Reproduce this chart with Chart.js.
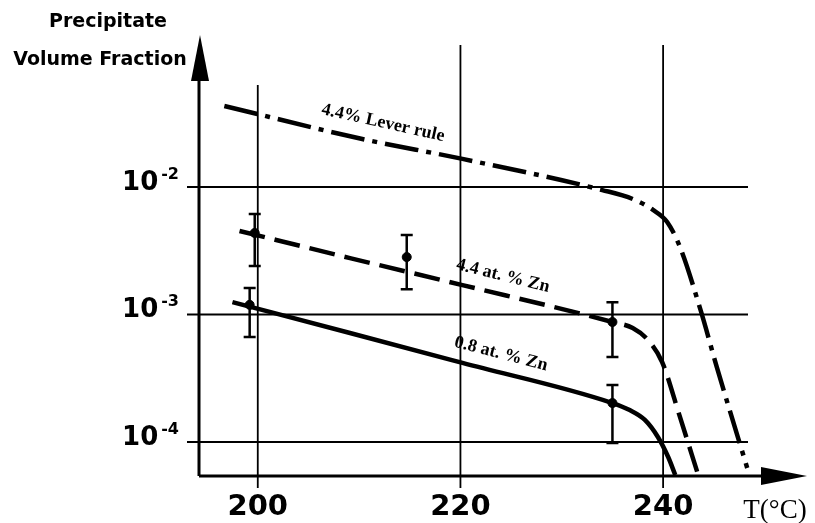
<!DOCTYPE html>
<html>
<head>
<meta charset="utf-8">
<script src="https://cdn.jsdelivr.net/npm/chart.js@4.4.1/dist/chart.umd.min.js"></script>
<style>
  body { margin: 0; background: #fff; }
  canvas { display: block; }
</style>
</head>
<body>
<canvas id="precipChart" width="815" height="523"></canvas>
<script>
// curves: temperature (°C) / volume fraction
const leverT = [196.7, 210.1, 220.2, 234.0, 237.0, 239.0, 240.4, 241.7, 243.7, 245.3, 248.3];
const leverV = [0.0432, 0.0240, 0.0166, 0.00946, 0.00805, 0.00661, 0.00531, 0.00333, 0.00108, 0.000387, 0.0000625];

const zn44T = [198.2, 209.1, 220.2, 235.0, 237.0, 238.5, 239.9, 241.6, 243.4];
const zn44V = [0.00452, 0.00277, 0.00170, 0.000873, 0.000783, 0.000631, 0.000424, 0.000163, 0.0000571];

const zn08T = [197.5, 209.1, 220.2, 235.0, 236.7, 238.2, 239.5, 240.5, 241.2];
const zn08V = [0.00125, 0.000716, 0.000417, 0.000202, 0.000178, 0.000149, 0.000109, 0.0000762, 0.0000551];

// measured points with error bars
const zn44PtT = [199.7, 214.7, 235.0];
const zn44PtV = [0.00436, 0.00282, 0.000873];
const zn44Lo = [0.00240, 0.00158, 0.000465];
const zn44Hi = [0.00614, 0.00421, 0.00125];

const zn08PtT = [199.2, 235.0];
const zn08PtV = [0.00119, 0.000202];
const zn08Lo = [0.000667, 0.0000980];
const zn08Hi = [0.00161, 0.000280];

// ticks
const xTicks = [200, 220, 240];
const yTickExp = [-2, -3, -4];

const toXY = (xs, ys) => xs.map((t, i) => ({ x: t, y: ys[i] }));

const sansBold = (px) => 'bold ' + px + 'px "DejaVu Sans"';

// axes, grid, labels and error bars drawn from the chart's own scales
const frame = {
  id: 'frame',
  beforeDatasetsDraw(chart) {
    const { ctx, chartArea: a, scales: { x, y } } = chart;
    ctx.save();
    ctx.strokeStyle = '#000';
    ctx.fillStyle = '#000';

    // grid
    ctx.lineWidth = 1.8;
    xTicks.forEach((t, i) => {
      const px = x.getPixelForValue(t);
      ctx.beginPath();
      ctx.moveTo(px, i === 0 ? 85 : 45);
      ctx.lineTo(px, a.bottom + 12);
      ctx.stroke();
    });
    yTickExp.forEach(e => {
      const py = y.getPixelForValue(Math.pow(10, e));
      ctx.beginPath();
      ctx.moveTo(a.left - 12, py);
      ctx.lineTo(748, py);
      ctx.stroke();
    });

    // axes with arrows
    ctx.lineWidth = 3;
    ctx.beginPath();
    ctx.moveTo(a.left, a.bottom);
    ctx.lineTo(a.left, a.top + 40);
    ctx.moveTo(a.left, a.bottom);
    ctx.lineTo(a.right - 40, a.bottom);
    ctx.stroke();
    ctx.beginPath();
    ctx.moveTo(a.left + 1, a.top);
    ctx.lineTo(a.left - 8, a.top + 46);
    ctx.lineTo(a.left + 10, a.top + 46);
    ctx.closePath();
    ctx.fill();
    ctx.beginPath();
    ctx.moveTo(a.right, a.bottom);
    ctx.lineTo(a.right - 46, a.bottom - 9);
    ctx.lineTo(a.right - 46, a.bottom + 9);
    ctx.closePath();
    ctx.fill();

    // x tick labels
    ctx.font = sansBold(29);
    ctx.textAlign = 'center';
    ctx.textBaseline = 'alphabetic';
    xTicks.forEach(t => ctx.fillText(String(t), x.getPixelForValue(t), 515));

    // y tick labels 10^-n
    ctx.textAlign = 'left';
    yTickExp.forEach(e => {
      const py = y.getPixelForValue(Math.pow(10, e));
      ctx.font = sansBold(26);
      const w1 = ctx.measureText('10').width;
      ctx.font = sansBold(16);
      const sup = '-' + Math.abs(e);
      const w2 = ctx.measureText(sup).width;
      const x0 = 179 - (w1 + 3 + w2);
      ctx.font = sansBold(26);
      ctx.fillText('10', x0, py + 3);
      ctx.font = sansBold(16);
      ctx.fillText(sup, x0 + w1 + 3, py - 8);
    });

    // axis titles
    ctx.font = sansBold(19);
    ctx.textAlign = 'center';
    ctx.fillText('Precipitate', 108, 27);
    ctx.fillText('Volume Fraction', 100, 65);
    ctx.font = '27px "Liberation Serif"';
    ctx.fillText('T(°C)', 775, 518);

    // curve labels
    ctx.font = 'bold 18px "Liberation Serif"';
    const tag = (txt, cx, cy, deg) => {
      ctx.save();
      ctx.translate(cx, cy);
      ctx.rotate(deg * Math.PI / 180);
      ctx.textBaseline = 'middle';
      ctx.fillText(txt, 0, 0);
      ctx.restore();
    };
    tag('4.4% Lever rule', 383, 123, 12.5);
    tag('4.4 at. % Zn', 503, 276, 14);
    tag('0.8 at. % Zn', 501, 354, 14.5);
    ctx.restore();
  },
  afterDatasetsDraw(chart) {
    const { ctx, scales: { x, y } } = chart;
    ctx.save();
    ctx.strokeStyle = '#000';
    ctx.lineWidth = 2.5;
    const bars = (ts, lo, hi) => ts.forEach((t, i) => {
      const px = x.getPixelForValue(t);
      const top = y.getPixelForValue(hi[i]);
      const bot = y.getPixelForValue(lo[i]);
      ctx.beginPath();
      ctx.moveTo(px, top); ctx.lineTo(px, bot);
      ctx.moveTo(px - 6, top); ctx.lineTo(px + 6, top);
      ctx.moveTo(px - 6, bot); ctx.lineTo(px + 6, bot);
      ctx.stroke();
    });
    bars(zn44PtT, zn44Lo, zn44Hi);
    bars(zn08PtT, zn08Lo, zn08Hi);
    ctx.restore();
  }
};

const curve = (xs, ys, dash) => ({
  data: toXY(xs, ys),
  showLine: true,
  borderColor: '#000',
  borderWidth: 4.5,
  borderDash: dash,
  pointRadius: 0,
  cubicInterpolationMode: 'monotone'
});

const marks = (xs, ys) => ({
  data: toXY(xs, ys),
  showLine: false,
  pointRadius: 4.5,
  pointBackgroundColor: '#000',
  pointBorderColor: '#000'
});

new Chart(document.getElementById('precipChart'), {
  type: 'scatter',
  data: {
    datasets: [
      curve(leverT, leverV, [34, 8, 5, 8]),
      curve(zn44T, zn44V, [26, 10]),
      curve(zn08T, zn08V, []),
      marks(zn44PtT, zn44PtV),
      marks(zn08PtT, zn08PtV)
    ]
  },
  options: {
    responsive: false,
    animation: false,
    layout: { padding: { left: 199, right: 8, top: 35, bottom: 47 } },
    plugins: {
      legend: { display: false },
      tooltip: { enabled: false }
    },
    scales: {
      x: { type: 'linear', min: 194.2, max: 254.2, display: false },
      y: { type: 'logarithmic', min: 5.41e-5, max: 0.1556, display: false }
    }
  },
  plugins: [frame]
});
</script>
</body>
</html>
